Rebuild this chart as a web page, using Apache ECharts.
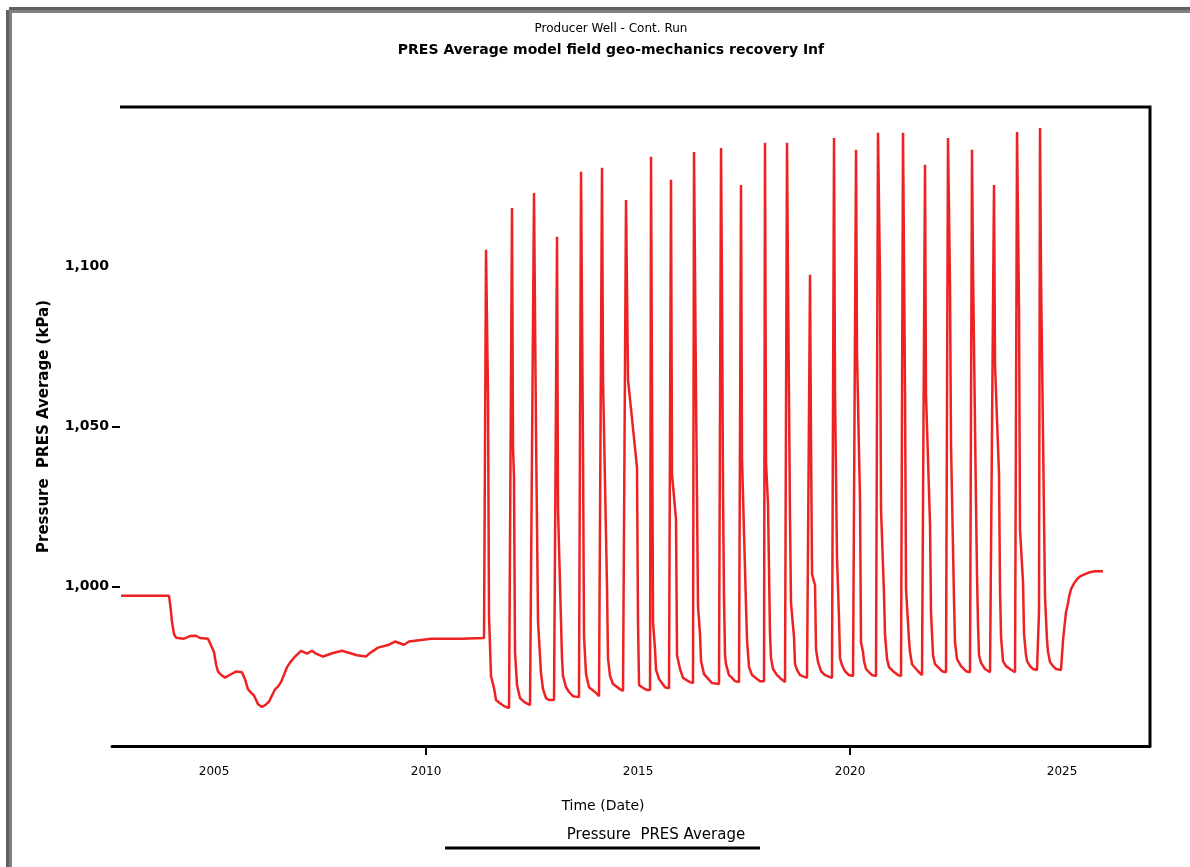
<!DOCTYPE html>
<html>
<head>
<meta charset="utf-8">
<script src="https://cdn.jsdelivr.net/npm/echarts@6/dist/echarts.min.js"></script>
<style>
html,body{margin:0;padding:0;background:#fff;}
#chart{width:1190px;height:867px;}
</style>
</head>
<body>
<div id="chart"></div>
<script>
// ---- DATA ----
const titleLine1 = "Producer Well - Cont. Run";
const titleLine2 = "PRES Average model field geo-mechanics recovery Inf";
const yAxisTitle = "Pressure  PRES Average (kPa)";
const xAxisTitle = "Time (Date)";
const legendLabel = "Pressure  PRES Average";

const xTickLabels = [2005, 2010, 2015, 2020, 2025];
const xTickMarks = [2010, 2020];
const yTickLabels = [1000, 1050, 1100];
const yTickMarks = [1000, 1050];

// time in decimal years
const times = [
 2002.807,2003.939,2003.962,2003.986,2004.009,2004.057,2004.104,2004.292,2004.434,2004.575,2004.670,2004.858,
 2005.000,2005.047,2005.094,2005.165,2005.259,2005.377,2005.519,2005.660,2005.731,2005.802,2005.873,2005.943,
 2006.038,2006.132,2006.226,2006.297,2006.368,2006.439,2006.509,2006.580,2006.651,2006.722,2006.792,2006.910,
 2007.052,2007.193,2007.311,2007.406,2007.571,2007.807,2008.019,2008.373,2008.585,2008.656,2008.868,2009.127,
 2009.269,2009.481,2009.599,2010.118,2010.825,2011.368,
 2011.391,2011.415,2011.462,2011.486,2011.533,2011.604,2011.651,2011.745,2011.840,2011.958,
 2012.005,2012.028,2012.052,2012.075,2012.099,2012.146,2012.217,2012.311,2012.453,
 2012.476,2012.547,2012.594,2012.642,2012.712,2012.759,2012.830,2012.901,2013.019,
 2013.066,2013.090,2013.113,2013.207,2013.231,2013.302,2013.373,2013.467,2013.608,
 2013.632,2013.656,2013.703,2013.726,2013.774,2013.844,2013.986,2014.080,
 2014.127,2014.151,2014.175,2014.269,2014.292,2014.340,2014.410,2014.575,2014.646,
 2014.693,2014.717,2014.764,2014.976,2015.000,2015.024,2015.094,2015.212,2015.283,
 2015.307,2015.330,2015.354,2015.401,2015.425,2015.495,2015.637,2015.731,
 2015.755,2015.778,2015.802,2015.896,2015.920,2015.991,2016.061,2016.226,2016.297,
 2016.321,2016.368,2016.415,2016.462,2016.486,2016.557,2016.745,2016.910,
 2016.934,2016.958,2016.981,2017.005,2017.028,2017.052,2017.075,2017.146,2017.217,2017.288,2017.382,
 2017.429,2017.453,2017.547,2017.571,2017.618,2017.689,2017.877,2017.972,
 2017.995,2018.019,2018.066,2018.113,2018.137,2018.184,2018.278,2018.349,2018.467,
 2018.514,2018.538,2018.585,2018.608,2018.679,2018.703,2018.750,2018.821,2018.986,
 2019.009,2019.057,2019.080,2019.104,2019.175,2019.198,2019.245,2019.316,2019.410,2019.575,
 2019.623,2019.646,2019.693,2019.741,2019.764,2019.811,2019.882,2019.976,2020.071,
 2020.142,2020.165,2020.236,2020.259,2020.307,2020.330,2020.377,2020.448,2020.519,2020.613,
 2020.660,2020.708,2020.731,2020.802,2020.825,2020.873,2020.920,2021.014,2021.132,2021.203,
 2021.250,2021.297,2021.321,2021.392,2021.415,2021.462,2021.604,2021.698,
 2021.745,2021.769,2021.792,2021.887,2021.910,2021.958,2022.005,2022.170,2022.264,
 2022.288,2022.311,2022.358,2022.382,2022.453,2022.476,2022.524,2022.618,2022.736,2022.830,
 2022.877,2022.901,2022.972,2022.995,2023.019,2023.042,2023.090,2023.184,2023.302,
 2023.349,2023.396,2023.420,2023.514,2023.538,2023.561,2023.585,2023.608,2023.679,2023.774,2023.892,
 2023.939,2023.986,2024.009,2024.080,2024.104,2024.151,2024.175,2024.245,2024.316,2024.410,
 2024.457,2024.481,2024.505,2024.552,2024.599,2024.646,2024.670,2024.717,2024.788,2024.858,2024.976,
 2025.024,2025.071,2025.094,2025.142,2025.165,2025.212,2025.283,2025.354,2025.425,2025.542,2025.660,2025.778,2025.967
];
// pressure average values
const pressure = [
 997.0,997.0,994.7,991.9,988.8,985.0,983.9,983.6,984.4,984.5,983.8,983.6,
 979.4,975.6,973.3,972.3,971.4,972.3,973.3,973.1,970.9,967.7,966.7,965.8,
 963.1,962.2,963.0,963.9,965.8,967.7,968.6,970.0,972.3,974.7,976.1,978.0,
 979.8,978.9,979.8,978.9,978.0,979.1,979.8,978.4,978.0,978.9,980.8,981.7,
 982.7,981.7,982.7,983.6,983.6,983.8,
 983.8,1105.3,1059.7,990.6,971.9,968.1,964.4,963.4,962.5,961.9,
 961.9,1118.4,1043.4,1034.1,979.4,969.1,965.0,963.8,962.8,
 962.5,1123.1,1048.4,988.8,972.8,967.8,965.0,964.4,964.4,
 964.4,1109.4,1024.1,977.5,971.9,968.4,966.9,965.6,965.3,
 965.3,1129.7,1041.3,984.4,972.5,968.4,966.9,965.6,
 965.6,1131.0,1064.7,999.4,977.5,971.9,969.4,967.8,967.2,
 967.2,1120.9,1064.7,1037.2,988.8,969.1,968.4,967.5,967.5,
 1134.4,1060.0,988.8,980.3,973.8,971.0,968.4,968.1,
 968.1,1127.2,1035.0,1020.9,978.4,974.1,971.3,970.0,969.7,
 1135.9,1060.0,993.8,985.0,976.6,972.5,969.7,969.4,
 969.1,1137.2,1091.9,1028.8,996.6,978.4,975.6,972.2,971.3,970.3,970.0,
 1125.6,1039.7,993.8,983.1,974.7,972.2,970.3,970.3,
 1138.8,1038.8,1025.6,985.0,977.5,974.1,972.2,971.3,970.0,
 1138.8,1094.4,1020.9,994.7,984.1,975.6,973.8,972.2,971.3,
 971.0,1097.5,1045.9,1003.8,1000.3,980.3,976.3,973.4,972.2,971.3,
 1140.3,1060.9,1009.1,989.7,977.5,975.3,973.4,972.2,971.9,
 1136.6,1072.5,1027.2,982.5,979.4,976.6,974.1,973.1,972.2,971.9,
 1141.9,1095.9,1024.1,997.5,985.0,977.2,974.7,973.4,972.2,971.9,
 1141.9,1061.6,999.1,983.1,979.4,975.6,973.4,972.2,
 971.9,1131.9,1060.0,1019.4,991.9,978.4,975.6,973.4,973.1,
 972.8,1140.3,1094.4,1044.4,995.6,982.5,977.2,975.0,973.4,973.1,
 1136.6,1099.1,1025.6,1003.8,987.8,978.4,976.0,974.1,973.1,
 972.8,1125.6,1069.4,1035.0,999.1,984.4,980.3,976.6,975.0,974.1,973.1,
 1142.2,1086.6,1017.8,1001.3,985.0,978.4,976.6,975.0,974.1,973.8,
 991.9,1143.4,1096.6,1046.9,996.6,983.1,979.4,976.3,975.0,974.1,973.8,
 983.1,989.1,991.9,994.7,996.6,999.1,1000.9,1002.2,1003.1,1003.8,1004.4,1004.7,1004.7
];

const seriesData = times.map((t, i) => [t, pressure[i]]);

const chart = echarts.init(document.getElementById('chart'), null, {renderer: 'canvas'});
const FONT = 'DejaVu Sans';

chart.setOption({
  animation: false,
  backgroundColor: '#ffffff',
  title: {
    text: titleLine1,
    subtext: titleLine2,
    left: 606,
    top: 18,
    textAlign: 'center',
    itemGap: 8,
    textStyle: {fontFamily: FONT, fontSize: 12, fontWeight: 'normal', color: '#000'},
    subtextStyle: {fontFamily: FONT, fontSize: 14, fontWeight: 'bold', color: '#000'}
  },
  grid: {left: 112, right: 40, top: 107, bottom: 121, containLabel: false},
  xAxis: {
    type: 'value',
    min: 2002.594,
    max: 2027.075,
    name: xAxisTitle,
    nameLocation: 'middle',
    nameGap: 53,
    nameTextStyle: {fontFamily: FONT, fontSize: 14, color: '#000', padding: [0, 56, 0, 0]},
    axisLine: {show: true, lineStyle: {color: '#000', width: 3}},
    axisTick: {show: true, customValues: xTickMarks, length: 9, lineStyle: {color: '#000', width: 2}},
    axisLabel: {customValues: xTickLabels, margin: 20, fontFamily: FONT, fontSize: 12, color: '#000',
                formatter: v => String(v)},
    splitLine: {show: false}
  },
  yAxis: {
    type: 'value',
    min: 950,
    max: 1150,
    name: yAxisTitle,
    nameLocation: 'middle',
    nameGap: 60,
    nameTextStyle: {fontFamily: FONT, fontSize: 15, fontWeight: 'bold', color: '#000'},
    axisLine: {show: false},
    axisTick: {show: true, inside: true, customValues: yTickMarks, length: 8, lineStyle: {color: '#000', width: 2}},
    axisLabel: {customValues: yTickLabels, margin: 3, fontFamily: FONT, fontSize: 14, fontWeight: 'bold', color: '#000',
                formatter: v => v.toLocaleString('en-US')},
    splitLine: {show: false}
  },
  series: [{
    name: legendLabel,
    type: 'line',
    data: seriesData,
    showSymbol: false,
    symbol: 'none',
    lineStyle: {color: '#ee2222', width: 2.5},
    itemStyle: {color: '#ee2222'}
  }],
  graphic: [
    // plot frame (top and right)
    {type: 'polyline', shape: {points: [[120, 107], [1150, 107], [1150, 746]]}, style: {stroke: '#000', lineWidth: 3, fill: null}},
    // window border
    {type: 'rect', shape: {x: 9, y: 7, width: 1181, height: 3}, style: {fill: '#606060'}},
    {type: 'rect', shape: {x: 9, y: 10, width: 1181, height: 3}, style: {fill: '#808080'}},
    {type: 'rect', shape: {x: 6, y: 10, width: 3, height: 857}, style: {fill: '#606060'}},
    {type: 'rect', shape: {x: 9, y: 13, width: 3, height: 854}, style: {fill: '#808080'}},
    // legend
    {type: 'text', x: 656, y: 835, style: {text: legendLabel, fontFamily: FONT, fontSize: 15, fill: '#000', align: 'center', verticalAlign: 'middle'}},
    {type: 'line', shape: {x1: 445, y1: 848, x2: 760, y2: 848}, style: {stroke: '#000', lineWidth: 3}}
  ]
});
</script>
</body>
</html>
